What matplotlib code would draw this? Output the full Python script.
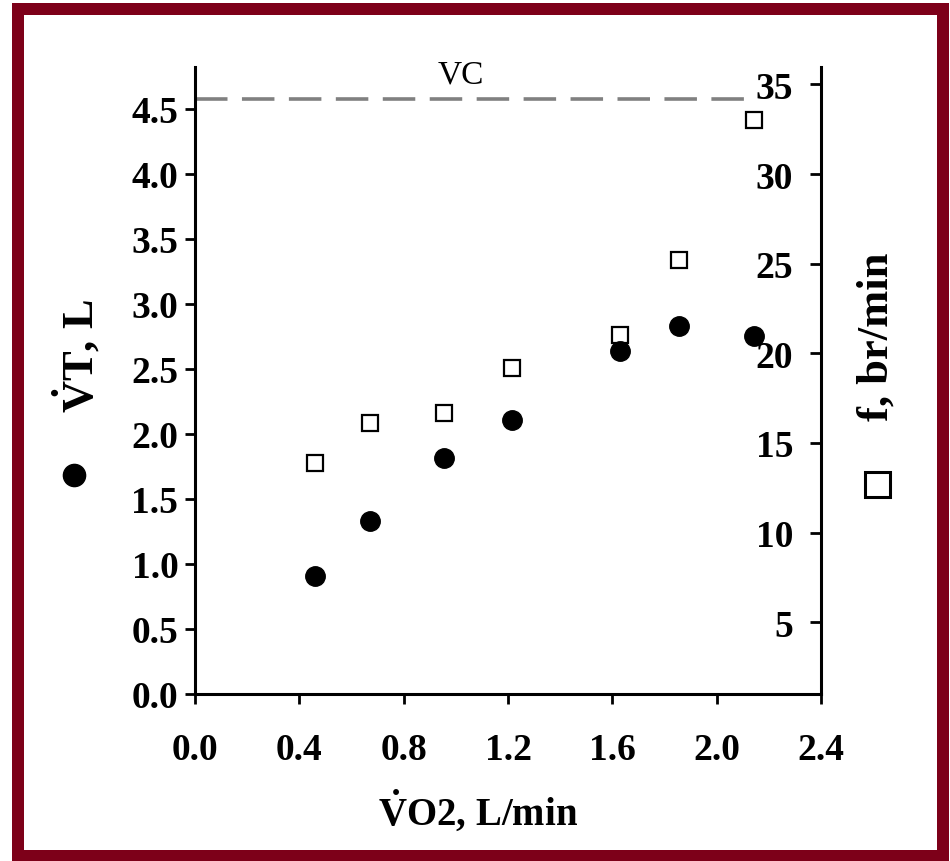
import numpy as np
import matplotlib.pyplot as plt
from matplotlib.lines import Line2D
from matplotlib.patches import Rectangle

# data
vo2 = [0.46, 0.67, 0.955, 1.215, 1.63, 1.855, 2.143]      # L/min
vt = [0.91, 1.33, 1.815, 2.11, 2.64, 2.83, 2.75]          # L (filled circles)
freq = [13.9, 16.1, 16.7, 19.2, 21.0, 25.2, 33.0]         # br/min (open squares)
vc = 4.58                                                 # vital capacity
vc_end = 2.14

x_ticks = [0.0, 0.4, 0.8, 1.2, 1.6, 2.0, 2.4]
vt_ticks = [0.0, 0.5, 1.0, 1.5, 2.0, 2.5, 3.0, 3.5, 4.0, 4.5]
f_ticks = [5, 10, 15, 20, 25, 30, 35]

plt.rcParams['font.family'] = ['Liberation Serif', 'DejaVu Serif']
plt.rcParams['mathtext.fontset'] = 'custom'
plt.rcParams['mathtext.rm'] = 'Liberation Serif'
plt.rcParams['mathtext.bf'] = 'Liberation Serif:bold'
W, H = 950, 862

fig = plt.figure(figsize=(W / 100, H / 100), dpi=100)
ax = fig.add_axes([195 / W, 1 - 695 / H, 626 / W, 627 / H])
ax2 = ax.twinx()
ax.set_zorder(ax2.get_zorder() + 1)
ax.patch.set_visible(False)

# right axis: f
ax2.plot(vo2, freq, ls='none', marker='s', ms=11, mfc='white', mec='black', mew=1.6)
ax2.set_ylim(1.0, 35.97)
ax2.set_yticks(f_ticks)
ax2.set_yticklabels([str(t) for t in f_ticks])
ax2.tick_params(axis='y', direction='in', length=8, width=2, pad=-20, labelsize=27)
for t in ax2.get_yticklabels():
    t.set_horizontalalignment('right')
    t.set_fontweight('bold')

# left axis: VT
ax.plot(vo2, vt, ls='none', marker='o', ms=14, color='black')
ax.plot([0, vc_end], [vc, vc], color='#808080', lw=2.6, ls=(0, (9, 4)))
ax.text(1.02, 4.77, 'VC', fontsize=24, ha='center', va='center')

ax.set_xlim(0, 2.4)
ax.set_ylim(0, 4.823)
ax.set_xticks(x_ticks)
ax.set_xticklabels(['%.1f' % t for t in x_ticks])
ax.set_yticks(vt_ticks)
ax.set_yticklabels(['%.1f' % t for t in vt_ticks])
ax.tick_params(axis='both', direction='out', length=7, width=2, labelsize=27)
ax.tick_params(axis='y', pad=5)
ax.tick_params(axis='x', pad=20)
for t in ax.get_xticklabels() + ax.get_yticklabels():
    t.set_fontweight('bold')

for a in (ax, ax2):
    a.spines['top'].set_visible(False)
    for s in ('left', 'right', 'bottom'):
        a.spines[s].set_linewidth(2.2)
ax.spines['right'].set_visible(False)
ax2.spines['left'].set_visible(False)
ax2.spines['bottom'].set_visible(False)

# axis titles with their symbols
fig.text(478 / W, 1 - 812 / H, r'$\mathbf{\dot{V}}$O2, L/min', fontsize=28,
         fontweight='bold', ha='center', va='center')
fig.text(77 / W, 1 - 356 / H, r'$\mathbf{\dot{V}}$T, L', fontsize=32,
         fontweight='bold', rotation=90, ha='center', va='center')
fig.text(877 / W, 1 - 337 / H, 'f, br/min', fontsize=32, fontweight='bold',
         rotation=90, ha='center', va='center')
fig.add_artist(Line2D([74 / W], [1 - 476 / H], marker='o', ms=16, color='black',
                      transform=fig.transFigure))
fig.add_artist(Line2D([877 / W], [1 - 485 / H], marker='s', ms=18, mfc='white',
                      mec='black', mew=2.2, transform=fig.transFigure))

# dark red frame
fig.add_artist(Rectangle((18 / W, 1 - 856.5 / H), 924.5 / W, 846.5 / H, fill=False,
                         ec='#7d0019', lw=12 * 0.72, transform=fig.transFigure))

fig.savefig('out.png', dpi=100)
